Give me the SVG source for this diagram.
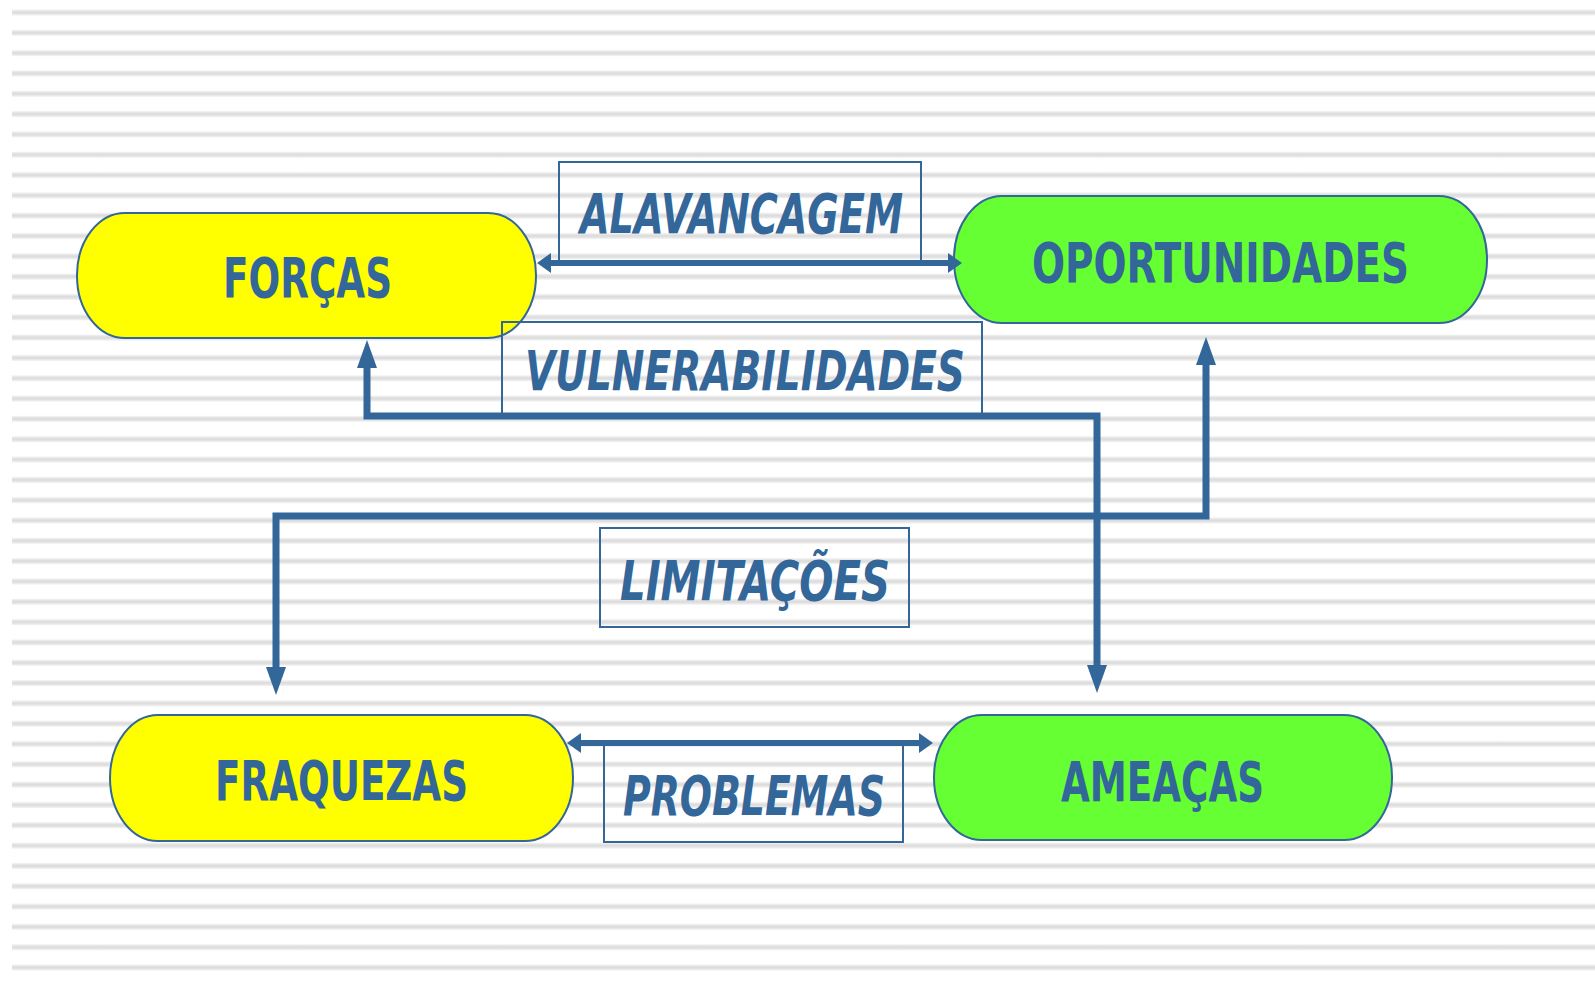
<svg xmlns="http://www.w3.org/2000/svg" width="1595" height="982" viewBox="0 0 1595 982">
<defs>
<linearGradient id="sg" x1="0" y1="0" x2="0" y2="1">
<stop offset="0" stop-color="#f4f4f4"/>
<stop offset="0.5" stop-color="#d9d9d9"/>
<stop offset="1" stop-color="#f4f4f4"/>
</linearGradient>
<pattern id="stripes" patternUnits="userSpaceOnUse" x="0" y="0" width="100" height="20.32">
<rect x="0" y="9.5" width="100" height="6" fill="url(#sg)"/>
</pattern>
<marker id="ah" viewBox="0 0 14 20" markerWidth="14" markerHeight="20" refX="0" refY="10" orient="auto-start-reverse" markerUnits="userSpaceOnUse">
<path d="M0,0 L14,10 L0,20 z" fill="#336699"/>
</marker>
<marker id="av" viewBox="0 0 28 20" markerWidth="28" markerHeight="20" refX="0" refY="10" orient="auto-start-reverse" markerUnits="userSpaceOnUse">
<path d="M0,0 L28,10 L0,20 z" fill="#336699"/>
</marker>
</defs>
<style>
.pill{stroke:#336699;stroke-width:2}
.y{fill:#ffff00}
.g{fill:#66ff33}
.box{fill:none;stroke:#336699;stroke-width:2}
.t{font-family:"DejaVu Sans","Liberation Sans",sans-serif;font-weight:bold;font-size:56px;fill:#336699;text-anchor:middle}
.i{font-style:italic}
.c{fill:none;stroke:#336699;stroke-linejoin:miter}
</style>
<rect x="0" y="0" width="1595" height="982" fill="#ffffff"/>
<rect x="12" y="0" width="1583" height="982" fill="url(#stripes)"/>

<g id="forcas">
<rect class="pill y" x="77" y="213" width="459" height="125" rx="48" ry="62"/>
<text class="t" x="307.5" y="297" textLength="169" lengthAdjust="spacingAndGlyphs">FORÇAS</text>
</g>
<g id="oportunidades">
<rect class="pill g" x="954" y="196" width="533" height="127" rx="48" ry="63"/>
<text class="t" x="1220.5" y="282" textLength="377" lengthAdjust="spacingAndGlyphs">OPORTUNIDADES</text>
</g>
<g id="fraquezas">
<rect class="pill y" x="110" y="715" width="463" height="126" rx="48" ry="63"/>
<text class="t" x="341.5" y="800" textLength="253" lengthAdjust="spacingAndGlyphs">FRAQUEZAS</text>
</g>
<g id="ameacas">
<rect class="pill g" x="934" y="715" width="458" height="125" rx="48" ry="62"/>
<text class="t" x="1162.5" y="801" textLength="203" lengthAdjust="spacingAndGlyphs">AMEAÇAS</text>
</g>

<g id="alavancagem">
<rect class="box" x="559" y="162" width="362" height="99"/>
<text class="t i" x="741.5" y="233" textLength="323" lengthAdjust="spacingAndGlyphs">ALAVANCAGEM</text>
</g>
<g id="vulnerabilidades">
<rect class="box" x="502" y="322" width="480" height="95"/>
<text class="t i" x="745" y="390" textLength="440" lengthAdjust="spacingAndGlyphs">VULNERABILIDADES</text>
</g>
<g id="limitacoes">
<rect class="box" x="600" y="528" width="309" height="99"/>
<text class="t i" x="755" y="600" textLength="270" lengthAdjust="spacingAndGlyphs">LIMITAÇÕES</text>
</g>
<g id="problemas">
<rect class="box" x="604" y="745" width="299" height="97"/>
<text class="t i" x="754" y="815" textLength="262" lengthAdjust="spacingAndGlyphs">PROBLEMAS</text>
</g>

<g id="connectors">
<path class="c" stroke-width="6" d="M551,263 H948" marker-start="url(#ah)" marker-end="url(#ah)"/>
<path class="c" stroke-width="6" d="M581,743 H919" marker-start="url(#ah)" marker-end="url(#ah)"/>
<path class="c" stroke-width="7" d="M367,368 V416 H1097 V665" marker-start="url(#av)" marker-end="url(#av)"/>
<path class="c" stroke-width="7" d="M1206,365 V516 H276 V667" marker-start="url(#av)" marker-end="url(#av)"/>
</g>
</svg>
